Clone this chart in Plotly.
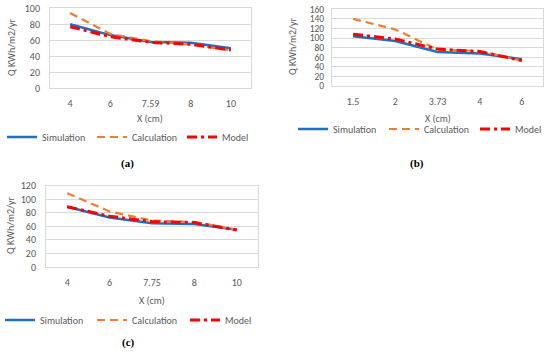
import plotly.graph_objects as go

W, H = 550, 353

# ---- data ----
cats_a = ["4", "6", "7.59", "8", "10"]
sim_a = [80, 66.5, 58, 57, 50]
calc_a = [94, 68, 59, 55, 47]
model_a = [77, 64.5, 57.5, 55, 48]

cats_b = ["1.5", "2", "3.73", "4", "6"]
sim_b = [104, 94, 71, 68, 56]
calc_b = [140, 118, 76, 73, 53]
model_b = [108, 98, 77, 72, 53]

cats_c = ["4", "6", "7.75", "8", "10"]
sim_c = [89, 73, 64.5, 63.5, 55]
calc_c = [109, 82, 68.5, 66.5, 55]
model_c = [89, 75, 67, 65.5, 54.5]

series_names = ["Simulation", "Calculation", "Model"]
panel_labels = ["(a)", "(b)", "(c)"]
x_title = "X (cm)"
y_title = "Q KWh/m2/yr"

BLUE = "#1F6FC6"
ORANGE = "#ED7D31"
RED = "#FF0000"
GREY = "#595959"
GRID = "#D9D9D9"
FONT = "Carlito, Lato, sans-serif"


def px(x):
    return x / W


def py(y):
    return 1 - y / H


# panel geometry in pixels
panels = [
    dict(l=50, r=251, t=8.3, b=88.3, ymax=100, cats=cats_a,
         data=(sim_a, calc_a, model_a), ytl=7, ytf=10,
         yt=(12, 48), xt=(150, 118), leg=(2, 137), lw=(45, 45, 32), lab=(127, 163)),
    dict(l=332, r=543, t=9.3, b=86, ymax=160, cats=cats_b,
         data=(sim_b, calc_b, model_b), ytl=5, ytf=9.5,
         yt=(292, 47), xt=(438, 118), leg=(293, 129), lw=(46, 46, 28), lab=(417, 163)),
    dict(l=46, r=258, t=185.7, b=267, ymax=120, cats=cats_c,
         data=(sim_c, calc_c, model_c), ytl=7, ytf=10,
         yt=(10, 226), xt=(152, 300), leg=(0, 320), lw=(47, 48, 32), lab=(128, 342)),
]

styles = [
    dict(color=BLUE, width=2.5, dash="solid"),
    dict(color=ORANGE, width=2.2, dash="8px,5px"),
    dict(color=RED, width=3, dash="10px,4px,3px,4px"),
]

fig = go.Figure()
annotations = []
layout = dict(
    width=W, height=H, margin=dict(l=0, r=0, t=0, b=0, autoexpand=False),
    paper_bgcolor="white", plot_bgcolor="white",
    font=dict(family=FONT, color=GREY, size=10),
)

for i, p in enumerate(panels):
    k = "" if i == 0 else str(i + 1)
    xa, ya = "x" + k, "y" + k
    leg = "legend" + k
    for j, name in enumerate(series_names):
        fig.add_trace(go.Scatter(
            x=p["cats"], y=p["data"][j], name=name, mode="lines",
            line=dict(**styles[j]), xaxis=xa, yaxis=ya, legend=leg,
            legendwidth=p["lw"][j],
        ))
    layout["xaxis" + k] = dict(
        domain=[px(p["l"]), px(p["r"])], anchor=ya, type="category",
        range=[-0.5, len(p["cats"]) - 0.5],
        showgrid=False, showline=True, linecolor=GRID, mirror=True,
        ticks="outside", ticklen=6, tickcolor="rgba(0,0,0,0)",
        tickfont=dict(size=10, color=GREY), fixedrange=True,
    )
    layout["yaxis" + k] = dict(
        domain=[py(p["b"]), py(p["t"])], anchor=xa,
        range=[0, p["ymax"]], dtick=20,
        showgrid=True, gridcolor=GRID, gridwidth=1,
        showline=True, linecolor=GRID, mirror=True, zeroline=False,
        ticks="outside", ticklen=p["ytl"], tickcolor="rgba(0,0,0,0)",
        tickfont=dict(size=p["ytf"], color=GREY), fixedrange=True,
    )
    layout[leg] = dict(
        orientation="h", x=px(p["leg"][0]), xanchor="left",
        y=py(p["leg"][1]), yanchor="middle",
        font=dict(size=10, color=GREY), bgcolor="rgba(0,0,0,0)",
        itemwidth=30, traceorder="normal",
    )
    annotations.append(dict(
        text=y_title, xref="paper", yref="paper",
        x=px(p["yt"][0]), y=py(p["yt"][1]),
        xanchor="center", yanchor="middle", textangle=-90,
        showarrow=False, font=dict(size=10, color=GREY),
    ))
    annotations.append(dict(
        text=x_title, xref="paper", yref="paper",
        x=px(p["xt"][0]), y=py(p["xt"][1]),
        xanchor="center", yanchor="middle",
        showarrow=False, font=dict(size=10, color=GREY),
    ))
    annotations.append(dict(
        text="<b>" + panel_labels[i] + "</b>", xref="paper", yref="paper",
        x=px(p["lab"][0]), y=py(p["lab"][1]),
        xanchor="center", yanchor="middle", showarrow=False,
        font=dict(size=11, color="black", family="Liberation Serif, serif"),
    ))

layout["annotations"] = annotations
fig.update_layout(**layout)
fig.write_html(
    "out.html",
    config={"displayModeBar": False},
    post_script="document.body.style.margin='0';document.body.style.padding='0';",
)
